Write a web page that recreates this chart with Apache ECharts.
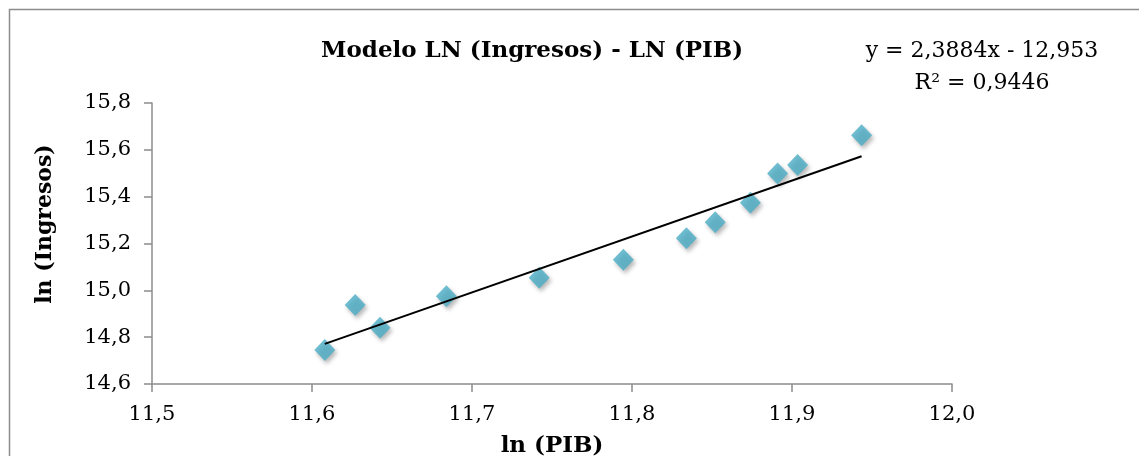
<!DOCTYPE html>
<html>
<head>
<meta charset="utf-8">
<script src="https://cdn.jsdelivr.net/npm/echarts@6/dist/echarts.min.js"></script>
<style>
  html, body { margin: 0; padding: 0; background: #fff; }
  #chart { width: 1139px; height: 456px; }
</style>
</head>
<body>
<div id="chart"></div>
<script>
// datos
var lnPIB = [11.608, 11.627, 11.6425, 11.684, 11.742, 11.7946, 11.834, 11.852, 11.874, 11.891, 11.9035, 11.9435];
var lnIngresos = [14.745, 14.937, 14.84, 14.975, 15.054, 15.131, 15.2225, 15.291, 15.374, 15.499, 15.535, 15.662];
var pendiente = 2.3884;
var intercepto = -12.953;
var ecuacion = 'y = 2,3884x - 12,953';
var r2 = 'R² = 0,9446';

var puntos = lnPIB.map(function (x, i) { return [x, lnIngresos[i]]; });
var xMin = Math.min.apply(null, lnPIB);
var xMax = Math.max.apply(null, lnPIB);
var tendencia = [
    [xMin, pendiente * xMin + intercepto],
    [xMax, pendiente * xMax + intercepto]
];

var coma = function (v) { return v.toFixed(1).replace('.', ','); };
var fuente = 'DejaVu Serif';

var option = {
    animation: false,
    backgroundColor: '#fff',
    title: {
        text: 'Modelo LN (Ingresos) - LN (PIB)',
        left: 316,
        top: 35,
        textStyle: { fontFamily: fuente, fontSize: 23, fontWeight: 'bold', color: '#000' }
    },
    graphic: [
        {
            type: 'rect',
            shape: { x: 9.5, y: 9.5, width: 1200, height: 500 },
            style: { fill: 'none', stroke: '#8c8c8c', lineWidth: 1.5 }
        },
        {
            type: 'text',
            x: 982, y: 35,
            style: {
                text: ecuacion + '\n' + r2,
                align: 'center',
                font: '22px "DejaVu Serif"',
                lineHeight: 32,
                fill: '#000'
            }
        },
        {
            // titulo del eje vertical
            type: 'text',
            x: 45, y: 224,
            rotation: Math.PI / 2,
            style: {
                text: 'ln (Ingresos)',
                align: 'center',
                verticalAlign: 'middle',
                font: 'bold 22px "DejaVu Serif"',
                fill: '#000'
            }
        }
    ],
    grid: { left: 152, right: 187, top: 103, bottom: 72, outerBoundsMode: 'none', containLabel: false },
    xAxis: {
        type: 'value',
        min: 11.5,
        max: 12.0,
        interval: 0.1,
        name: 'ln (PIB)',
        nameLocation: 'middle',
        nameGap: 51,
        nameTextStyle: { fontFamily: fuente, fontSize: 23, fontWeight: 'bold', color: '#000' },
        axisLine: { show: true, lineStyle: { color: '#8c8c8c', width: 1.5 } },
        axisTick: { show: true, length: 8, lineStyle: { color: '#8c8c8c', width: 1.5 } },
        axisLabel: { formatter: coma, margin: 20, fontFamily: fuente, fontSize: 21, color: '#000' },
        splitLine: { show: false }
    },
    yAxis: {
        type: 'value',
        min: 14.6,
        max: 15.8,
        interval: 0.2,
        axisLine: { show: true, lineStyle: { color: '#8c8c8c', width: 1.5 } },
        axisTick: { show: true, length: 8, lineStyle: { color: '#8c8c8c', width: 1.5 } },
        axisLabel: { formatter: coma, margin: 21, fontFamily: fuente, fontSize: 21, color: '#000' },
        splitLine: { show: false }
    },
    series: [
        {
            name: 'tendencia',
            type: 'line',
            data: tendencia,
            symbol: 'none',
            lineStyle: { color: '#000', width: 2 },
            z: 3
        },
        {
            name: 'datos',
            type: 'scatter',
            data: puntos,
            symbol: 'diamond',
            symbolSize: [21, 22],
            itemStyle: {
                color: '#4bacc6',
                shadowColor: 'rgba(0,0,0,0.35)',
                shadowBlur: 4,
                shadowOffsetX: 2,
                shadowOffsetY: 3
            },
            z: 2
        }
    ]
};

var myChart = echarts.init(document.getElementById('chart'));
myChart.setOption(option);
</script>
</body>
</html>
